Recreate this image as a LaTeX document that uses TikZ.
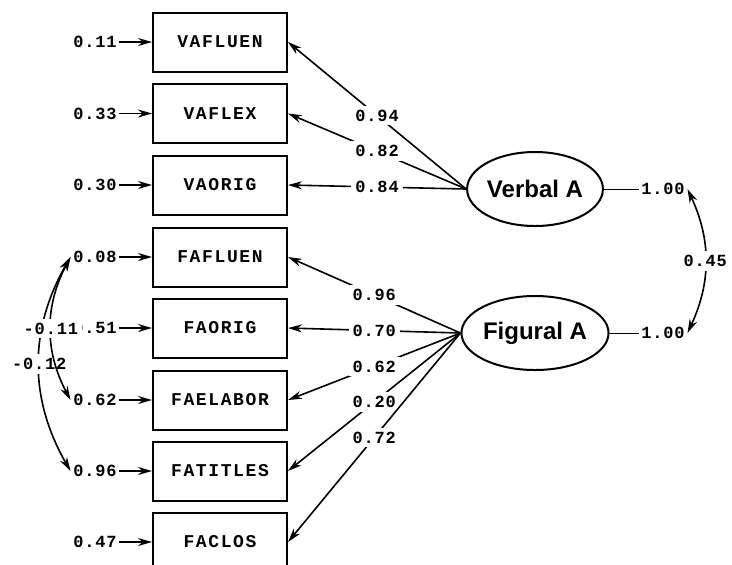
\documentclass[tikz,border=0pt]{standalone}
\usepackage{fontspec}
\setmainfont{Liberation Sans}
\newfontfamily\lisfont[LetterSpace=5]{Liberation Mono}
\newfontfamily\varfont[LetterSpace=9]{Liberation Mono}
\usetikzlibrary{arrows.meta}
\usetikzlibrary{shapes.geometric}

\tikzset{
  obs/.style={rectangle,draw,line width=1pt,minimum width=67pt,minimum height=29.5pt,
    font=\varfont\bfseries\fontsize{9}{10}\selectfont},
  lat/.style={ellipse,draw,line width=1pt,inner sep=0pt,minimum width=67.5pt,minimum height=37pt,
    font=\bfseries\fontsize{12}{14}\selectfont},
  num/.style={font=\lisfont\bfseries\fontsize{8.5}{10}\selectfont,inner sep=1pt},
  lab/.style={num,fill=white,inner sep=2pt}
}

\begin{document}
\begin{tikzpicture}[x=0.5pt,y=-0.5pt,>={Stealth[length=7pt,width=4pt]},line width=0.8pt]
  \useasboundingbox (0,0) rectangle (732,564);

  % observed variables
  \begin{scope}[every node/.style={obs}]
    \node (vaf) at (220,42) {VAFLUEN};
    \node (vax) at (220,113.5) {VAFLEX};
    \node (vao) at (220,185) {VAORIG};
    \node (faf) at (220,257) {FAFLUEN};
    \node (fao) at (220,328) {FAORIG};
    \node (fae) at (220,400) {FAELABOR};
    \node (fat) at (220,471) {FATITLES};
    \node (fac) at (220,542) {FACLOS};
  \end{scope}

  % latent variables
  \node (va) [lat] at (535,189) {Verbal A};
  \node (fa) [lat] at (535,333) {Figural A};

  % error variances
  \begin{scope}[every node/.style={num}]
    \node (e1) at (95,42) {0.11};
    \node (e2) at (95,113.5) {0.33};
    \node (e3) at (95,185) {0.30};
    \node (e4) at (95,257) {0.08};
    \node (e5) at (95,328) {0.51};
    \node (e6) at (95,400) {0.62};
    \node (e7) at (95,471) {0.96};
    \node (e8) at (95,542) {0.47};
    \node (v1) at (663,189) {1.00};
    \node (v2) at (663,333) {1.00};
  \end{scope}

  \path [->] (e1) edge (vaf);
  \path [->] (e2) edge (vax);
  \path [->] (e3) edge (vao);
  \path [->] (e4) edge (faf);
  \path [->] (e5) edge (fao);
  \path [->] (e6) edge (fae);
  \path [->] (e7) edge (fat);
  \path [->] (e8) edge (fac);

  % loadings
  \path [->] (va.west) edge node[lab] {0.94} (vaf.east);
  \path [->] (va.west) edge node[lab] {0.82} (vax.east);
  \path [->] (va.west) edge node[lab] {0.84} (vao.east);
  \path [->] (fa.west) edge node[lab] {0.96} (faf.east);
  \path [->] (fa.west) edge node[lab] {0.70} (fao.east);
  \path [->] (fa.west) edge node[lab] {0.62} (fae.east);
  \path [->] (fa.west) edge node[lab] {0.20} (fat.east);
  \path [->] (fa.west) edge node[lab] {0.72} (fac.east);

  % latent variances and correlation
  \path [thin] (va) edge (v1);
  \path [thin] (fa) edge (v2);
  \path [<->] (v1.east) edge[bend left=25] node[lab] {0.45} (v2.east);

  % error correlations
  \path [<->] (e4.west) edge[bend right=30] node[lab] {-0.12} (e7.west);
  \path [<->] (e4.west) edge[bend right=28] node[lab] {-0.11} (e6.west);
\end{tikzpicture}
\end{document}
